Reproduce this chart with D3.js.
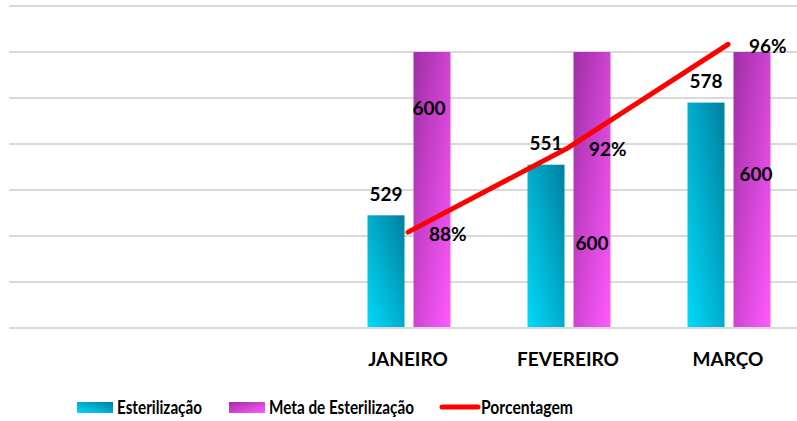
<!DOCTYPE html>
<html>
<head>
<meta charset="utf-8">
<script src="https://cdn.jsdelivr.net/npm/d3@7"></script>
<style>
  body { margin: 0; background: #fff; }
  text { font-family: Lato, "Open Sans", sans-serif; font-weight: bold; fill: #000; }
</style>
</head>
<body>
<script>
// data
let categories = ['', ' ', 'JANEIRO', 'FEVEREIRO', 'MARÇO'];
let months = ['JANEIRO', 'FEVEREIRO', 'MARÇO'];
let esterilizacao = [529, 551, 578];
let meta = [600, 600, 600];
let porcentagem = [88.17, 91.83, 96.33];
let pctLabels = ['88%', '92%', '96%'];
let yTicks = [480, 500, 520, 540, 560, 580, 600, 620];
// where excel dropped the meta labels (value units / px nudge)
let metaLabelY = [576, 517, 547];
let metaLabelDx = [-3, 0, 4];

let width = 797, height = 421;
let margin = {top: 6, left: 9, bottom: 93};
let plotRight = 809; // chart is cut off on the right

let svg = d3.select('body').append('svg')
    .attr('width', width)
    .attr('height', height);

let defs = svg.append('defs');
let g1 = defs.append('linearGradient').attr('id', 'cyan')
    .attr('x1', 0).attr('y1', 1).attr('x2', 1).attr('y2', 0);
g1.append('stop').attr('offset', 0).attr('stop-color', '#00dafa');
g1.append('stop').attr('offset', 1).attr('stop-color', '#00809e');
let g2 = defs.append('linearGradient').attr('id', 'pink')
    .attr('x1', 0).attr('y1', 0).attr('x2', 1).attr('y2', 1);
g2.append('stop').attr('offset', 0).attr('stop-color', '#9e2ea4');
g2.append('stop').attr('offset', 1).attr('stop-color', '#ff5aff');

let x = d3.scaleBand().domain(categories).range([margin.left, plotRight]);
let y = d3.scaleLinear().domain([480, 620]).range([height - margin.bottom, margin.top]);
let y2 = d3.scaleLinear().domain([84, 98]).range([height - margin.bottom, margin.top]);

let barW = 37, gap = 9;

// grid
svg.append('g')
    .selectAll('line')
    .data(yTicks)
    .enter()
    .append('line')
    .attr('x1', margin.left)
    .attr('x2', width)
    .attr('y1', d => y(d))
    .attr('y2', d => y(d))
    .attr('stroke', '#d9d9d9')
    .attr('stroke-width', 2);

let center = m => x(m) + x.bandwidth() / 2;

svg.append('g').selectAll('rect')
    .data(esterilizacao)
    .enter()
    .append('rect')
    .attr('x', (d, i) => center(months[i]) - gap / 2 - barW)
    .attr('y', d => y(d))
    .attr('width', barW)
    .attr('height', d => y(480) - y(d) - 1)
    .attr('fill', 'url(#cyan)');

svg.append('g').selectAll('rect')
    .data(meta)
    .enter()
    .append('rect')
    .attr('x', (d, i) => center(months[i]) + gap / 2)
    .attr('y', d => y(d))
    .attr('width', barW)
    .attr('height', d => y(480) - y(d) - 1)
    .attr('fill', 'url(#pink)');

// bar labels
svg.append('g').selectAll('text')
    .data(esterilizacao)
    .enter()
    .append('text')
    .attr('x', (d, i) => center(months[i]) - gap / 2 - barW / 2)
    .attr('y', d => y(d) - 22)
    .attr('text-anchor', 'middle')
    .attr('dominant-baseline', 'central')
    .style('font-size', '19px')
    .text(d => d);

svg.append('g').selectAll('text')
    .data(meta)
    .enter()
    .append('text')
    .attr('x', (d, i) => center(months[i]) + gap / 2 + barW / 2 + metaLabelDx[i])
    .attr('y', (d, i) => y(metaLabelY[i]))
    .attr('text-anchor', 'middle')
    .attr('dominant-baseline', 'central')
    .style('font-size', '19px')
    .text(d => d);

// line
let line = d3.line()
    .x((d, i) => center(months[i]) - 1)
    .y(d => y2(d));
svg.append('path')
    .datum(porcentagem)
    .attr('d', line)
    .attr('fill', 'none')
    .attr('stroke', '#ff0000')
    .attr('stroke-width', 5)
    .attr('stroke-linecap', 'round');

svg.append('g').selectAll('text')
    .data(porcentagem)
    .enter()
    .append('text')
    .attr('x', (d, i) => center(months[i]) + 20)
    .attr('y', d => y2(d) + 1)
    .attr('dominant-baseline', 'central')
    .style('font-size', '19px')
    .text((d, i) => pctLabels[i]);

// category axis labels
svg.append('g').selectAll('text')
    .data(months)
    .enter()
    .append('text')
    .attr('x', d => center(d) - 1)
    .attr('y', 358)
    .attr('text-anchor', 'middle')
    .attr('dominant-baseline', 'central')
    .style('font-size', '19px')
    .text(d => d);

// legend
let legend = svg.append('g').attr('transform', 'translate(0,407)');
let items = [
    {name: 'Esterilização', x: 77, w: 85, type: 'rect', fill: 'url(#cyan)'},
    {name: 'Meta de Esterilização', x: 229, w: 145, type: 'rect', fill: 'url(#pink)'},
    {name: 'Porcentagem', x: 441, w: 92, type: 'line'}
];
items.forEach(function (it) {
    if (it.type === 'rect') {
        legend.append('rect')
            .attr('x', it.x).attr('y', -5)
            .attr('width', 36).attr('height', 11)
            .attr('fill', it.fill);
    } else {
        legend.append('line')
            .attr('x1', it.x + 1).attr('x2', it.x + 37)
            .attr('y1', 0).attr('y2', 0)
            .attr('stroke', '#ff0000')
            .attr('stroke-width', 5)
            .attr('stroke-linecap', 'round');
    }
    legend.append('text')
        .attr('x', it.x + 40)
        .attr('y', 0)
        .attr('dominant-baseline', 'central')
        .attr('textLength', it.w)
        .attr('lengthAdjust', 'spacingAndGlyphs')
        .style('font-size', '18px')
        .text(it.name);
});
</script>
</body>
</html>
